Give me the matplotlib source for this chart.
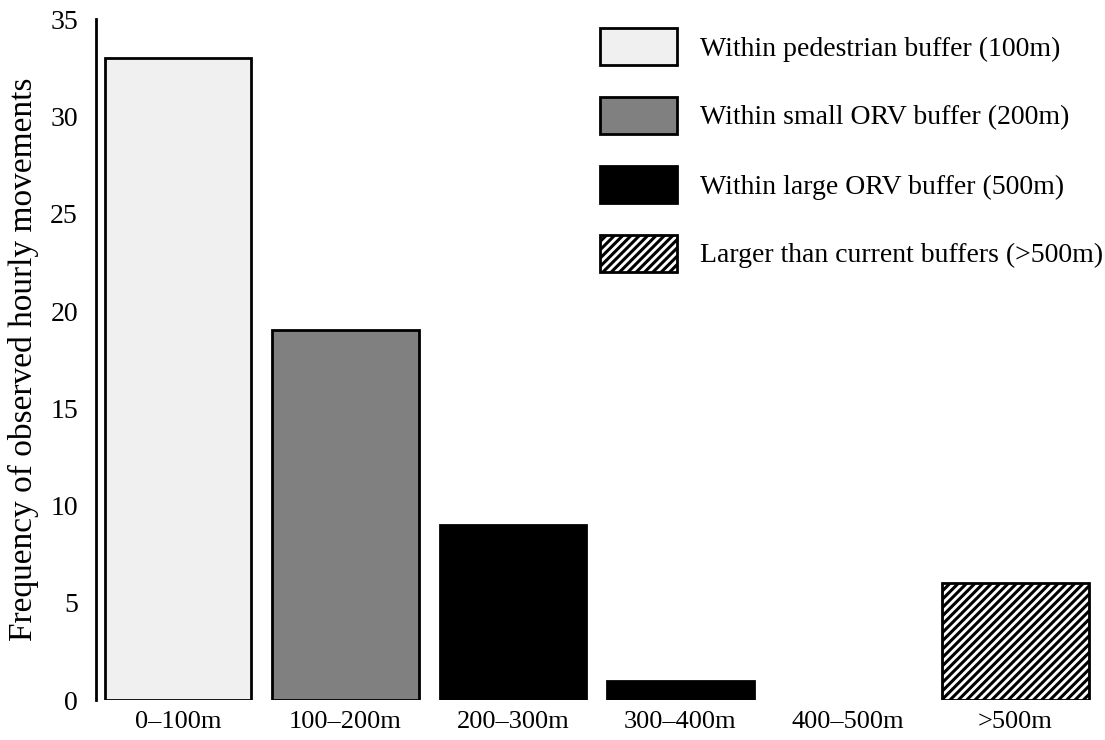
import matplotlib
matplotlib.use("Agg")
import matplotlib.pyplot as plt
from matplotlib.patches import Patch

categories = ["0–100m", "100–200m", "200–300m", "300–400m", "400–500m", ">500m"]
counts = [33, 19, 9, 1, 0, 6]
legend_labels = ["Within pedestrian buffer (100m)",
                 "Within small ORV buffer (200m)",
                 "Within large ORV buffer (500m)",
                 "Larger than current buffers (>500m)"]
yticks = [0, 5, 10, 15, 20, 25, 30, 35]

plt.rcParams['font.family'] = ['Liberation Serif', 'DejaVu Serif']
plt.rcParams['hatch.linewidth'] = 2.2

fig = plt.figure(figsize=(11.05, 7.4), dpi=100)
ax = fig.add_axes([0.0869, 0.054, 0.9077, 0.92])

colors = ['#f0f0f0', '#808080', 'black', 'black', 'black', 'white']
hatches = [None, None, None, None, None, '////']
x = list(range(len(categories)))
for i, (c, v) in enumerate(zip(categories, counts)):
    lw = 2 if v > 0 else 0
    ax.bar(i, v, width=0.875, color=colors[i], edgecolor='black',
           linewidth=lw, hatch=hatches[i])

ax.set_xlim(-0.49, 5.5)
ax.set_ylim(0, 35)
ax.set_xticks(x)
ax.set_xticklabels(categories, fontsize=19)
ax.set_yticks(yticks)
ax.set_yticklabels([str(t) for t in yticks], fontsize=20)
ax.tick_params(axis='both', length=0)
ax.tick_params(axis='y', pad=13)
ax.tick_params(axis='x', pad=8)
for s in ['top', 'right', 'bottom']:
    ax.spines[s].set_visible(False)
ax.spines['left'].set_linewidth(2)
ax.set_ylabel("Frequency of observed hourly movements", fontsize=24, labelpad=8)

handles = [Patch(facecolor='#f0f0f0', edgecolor='black', linewidth=2),
           Patch(facecolor='#808080', edgecolor='black', linewidth=2),
           Patch(facecolor='black', edgecolor='black', linewidth=2),
           Patch(facecolor='white', edgecolor='black', linewidth=2, hatch='////')]
fig.legend(handles, legend_labels, loc='upper left', bbox_to_anchor=(0.530, 0.981),
           frameon=False, fontsize=20, handlelength=2.8, handleheight=1.7,
           labelspacing=1.13, handletextpad=0.8, borderpad=0)

fig.savefig("out.png", dpi=100)
